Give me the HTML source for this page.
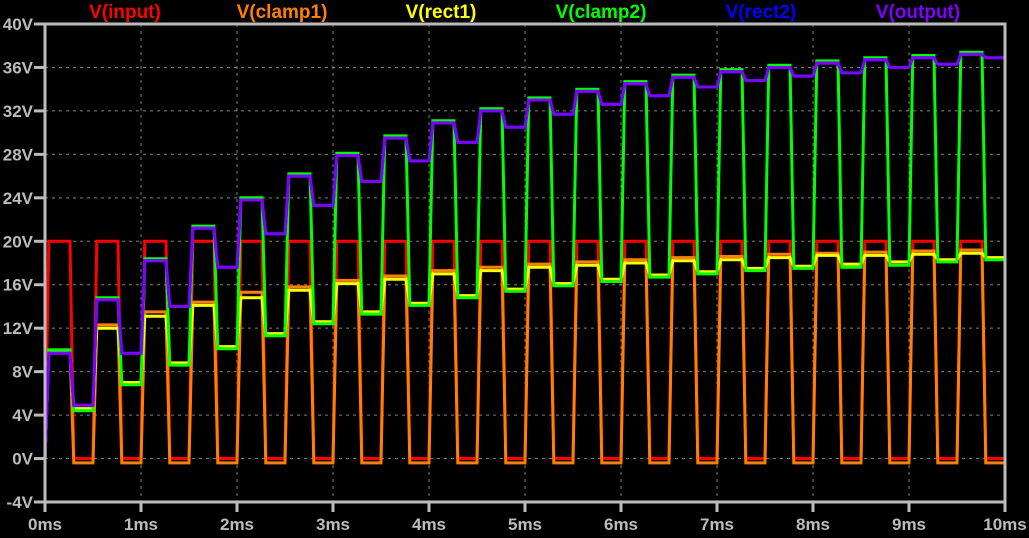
<!DOCTYPE html>
<html><head><meta charset="utf-8"><style>
html,body{margin:0;padding:0;background:#000;}
svg{display:block;font-family:"Liberation Sans",Arial,sans-serif;font-weight:bold;}
</style></head><body>
<svg id="chart" width="1029" height="538" viewBox="0 0 1029 538">
<rect x="0" y="0" width="1029" height="538" fill="#000"/>
<g id="grid"></g>
<g id="series"></g>
<g id="axes"></g>
<g id="legend"></g>
</svg>
<script>
// ---- data ----
const yTicks = [40,36,32,28,24,20,16,12,8,4,0,-4];
const yTickLabels = ["40V","36V","32V","28V","24V","20V","16V","12V","8V","4V","0V","-4V"];
const xTicks = [0,1,2,3,4,5,6,7,8,9,10];
const xTickLabels = ["0ms","1ms","2ms","3ms","4ms","5ms","6ms","7ms","8ms","9ms","10ms"];
const seriesNames = ["V(input)","V(clamp1)","V(rect1)","V(clamp2)","V(rect2)","V(output)"];
const seriesColors = ["#ff0000","#ff8000","#ffff00","#00ff00","#0000ff","#8000ff"];
const legendX = [125,282,441,601,761,918];
const period = 0.5;            // ms
const inputHigh = 20, inputLow = 0;
const clamp1Low = -0.4;
// per-cycle levels (20 cycles)
const clamp1High = [10.0,12.3,13.5,14.4,15.3,15.8,16.4,16.8,17.3,17.6,17.9,18.1,18.3,18.5,18.6,18.8,18.9,19.0,19.1,19.2];
const rect1High  = [9.8,12.0,13.1,14.1,14.8,15.5,16.1,16.5,17.0,17.3,17.6,17.8,18.0,18.2,18.3,18.5,18.7,18.7,18.8,18.9];
const rect1Low   = [4.6,7.0,8.8,10.3,11.5,12.6,13.5,14.3,15.0,15.6,16.1,16.5,16.9,17.2,17.5,17.7,17.9,18.1,18.3,18.5];
const clamp2High = [10.0,14.8,18.4,21.4,24.0,26.2,28.1,29.7,31.1,32.2,33.2,34.0,34.7,35.3,35.8,36.2,36.6,36.9,37.1,37.4];
const clamp2Low  = [4.4,6.8,8.6,10.1,11.3,12.4,13.3,14.1,14.8,15.4,15.9,16.3,16.7,17.0,17.3,17.5,17.6,17.8,18.1,18.3];
const outHigh    = [9.7,14.6,18.2,21.2,23.8,26.0,27.9,29.5,30.9,32.0,33.0,33.8,34.5,35.1,35.6,36.0,36.4,36.7,36.9,37.2];
const outLow     = [4.9,9.7,14.0,17.6,20.7,23.3,25.5,27.4,29.1,30.5,31.7,32.6,33.4,34.2,34.8,35.2,35.5,36.0,36.3,36.9];

// ---- axes ----
const X0=45, X1=1005, Y40=24, Yn4=502;
const xs = t => X0 + (t-0)/(10-0)*(X1-X0);
const ys = v => Y40 + (40-v)/(40-(-4))*(Yn4-Y40);
const NS="http://www.w3.org/2000/svg";
function mk(tag, attrs, parent){const e=document.createElementNS(NS,tag);for(const k in attrs)e.setAttribute(k,attrs[k]);parent.appendChild(e);return e;}
const grid=document.getElementById('grid'), axes=document.getElementById('axes'), ser=document.getElementById('series'), leg=document.getElementById('legend');

yTicks.forEach((v,i)=>{
  if(v!==40 && v!==-4){
    const l=mk('line',{x1:X0,x2:X1,y1:ys(v),y2:ys(v),stroke:'#808080','stroke-width':1,'stroke-dasharray':'3,4'},grid);
    
    
  }
  const tk=mk('line',{x1:34,x2:X0,y1:ys(v),y2:ys(v),stroke:'#bcbcbc','stroke-width':3},axes);
  
  
  const t=mk('text',{x:33,y:ys(v)+6,'text-anchor':'end',fill:'#bcbcbc','font-size':'17'},axes);
  t.textContent=yTickLabels[i];
  
  
});
xTicks.forEach((tv,i)=>{
  if(tv!==0 && tv!==10){
    const l=mk('line',{x1:xs(tv),x2:xs(tv),y1:Y40,y2:Yn4,stroke:'#808080','stroke-width':1,'stroke-dasharray':'3,4'},grid);
    
    
  }
  const tk=mk('line',{x1:xs(tv),x2:xs(tv),y1:Yn4,y2:512,stroke:'#bcbcbc','stroke-width':3},axes);
  
  
  const t=mk('text',{x:xs(tv),y:530,'text-anchor':'middle',fill:'#bcbcbc','font-size':'17'},axes);
  t.textContent=xTickLabels[i];
  
  
});
const frame=mk('rect',{x:X0,y:Y40,width:X1-X0,height:Yn4-Y40,fill:'none',stroke:'#bcbcbc','stroke-width':3},axes);



// ---- waveforms ----
// edges: rise 0..0.04, high 0.04..0.26, fall 0.26..0.30, low 0.30..0.5
function build(hiArr, loArr, startVal){
  const pts=[[0,startVal]];
  let prev=startVal;
  for(let k=0;k<hiArr.length;k++){
    const t0=k*period;
    const hi=hiArr[k];
    const lo=loArr[k];
    pts.push([t0,prev]);
    pts.push([t0+0.04,hi]);
    pts.push([t0+0.26,hi]);
    pts.push([t0+0.30,lo]);
    pts.push([t0+0.5,lo]);
    prev=lo;
  }
  return pts;
}
const n=clamp1High.length;
const inHi=Array(n).fill(inputHigh), inLo=Array(n).fill(inputLow);
const c1Lo=Array(n).fill(clamp1Low);
const data=[
  build(inHi,inLo,0),
  build(clamp1High,c1Lo,0),
  build(rect1High,rect1Low,0),
  build(clamp2High,clamp2Low,0),
  build(outHigh,outLow,0),
  build(outHigh,outLow,0)
];
data.forEach((pts,i)=>{
  const d=pts.map((p,j)=>(j?'L':'M')+xs(Math.min(p[0],10)).toFixed(1)+','+ys(p[1]).toFixed(1)).join(' ');
  const p=mk('path',{d:d,fill:'none',stroke:seriesColors[i],'stroke-width':3,'stroke-linejoin':'miter'},ser);
  
  
});

// ---- legend ----
seriesNames.forEach((nm,i)=>{
  const t=mk('text',{x:legendX[i],y:18,'text-anchor':'middle',fill:seriesColors[i],'font-size':'19'},leg);
  t.textContent=nm;
  
  
});
</script>
</body></html>
